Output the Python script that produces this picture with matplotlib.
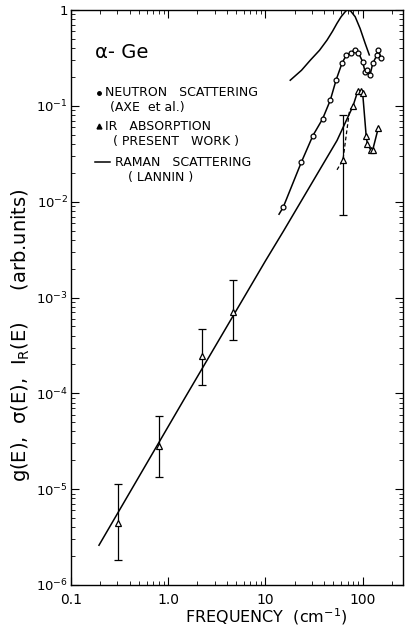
import matplotlib
matplotlib.use('Agg')
import matplotlib.pyplot as plt

# neutron scattering g(E), Axe et al.
neutron_freq = [15.2, 23.4, 30.8, 38.7, 46.4, 53.5, 61.2, 67.8, 75.7, 83.8, 90.6,
                100, 106, 112, 119, 127, 140, 145, 155]
neutron_g = [0.0087, 0.0258, 0.049, 0.073, 0.114, 0.188, 0.277, 0.338, 0.357, 0.387, 0.357,
             0.288, 0.226, 0.235, 0.209, 0.277, 0.338, 0.387, 0.312]
neutron_line_freq = [13.8] + neutron_freq
neutron_line_g = [0.0074] + neutron_g

# IR absorption sigma(E), present work
ir_freq = [0.305, 0.795, 2.21, 4.67, 62.7, 79.4, 89.2, 95.7, 100, 108.6, 112, 121, 127, 145]
ir_sigma = [4.4e-6, 2.79e-5, 2.44e-4, 7.05e-4, 0.0273, 0.099, 0.143, 0.143, 0.136,
            0.049, 0.0395, 0.0348, 0.0348, 0.059]
err_freq = [0.305, 0.795, 2.21, 4.67, 62.7]
err_val = [4.4e-6, 2.79e-5, 2.44e-4, 7.05e-4, 0.0273]
err_lo = [1.84e-6, 1.35e-5, 1.21e-4, 3.56e-4, 0.0073]
err_hi = [1.12e-5, 5.8e-5, 4.64e-4, 1.52e-3, 0.080]

# solid curve through the IR data
ir_line_freq = [0.194, 1.45, 10, 15.4, 54.5, 79.4, 89.2, 95.7, 100, 108.6, 112, 121, 127, 145]
ir_line_sigma = [2.6e-6, 8.6e-5, 2.41e-3, 4.97e-3, 0.0435, 0.099, 0.143, 0.143, 0.136,
                 0.049, 0.0395, 0.0348, 0.0348, 0.059]
# dashed segment
ir_dash_freq = [54.5, 62.7, 73.3, 79.4]
ir_dash_sigma = [0.0215, 0.0273, 0.0897, 0.099]

# Raman scattering I_R(E), Lannin
raman_freq = [18.0, 23.5, 29.0, 36, 43, 49, 54.4, 60, 66.2, 69, 75, 83.8, 94.2, 106, 117]
raman_I = [0.185, 0.235, 0.30, 0.38, 0.485, 0.60, 0.725, 0.85, 0.96, 1.0, 0.98, 0.85,
           0.64, 0.45, 0.34]

xticks = [0.1, 1, 10, 100]
xtick_labels = ['0.1', '1.0', '10', '100']
yticks = [1e-6, 1e-5, 1e-4, 1e-3, 1e-2, 1e-1, 1]
ytick_labels = ['$10^{-6}$', '$10^{-5}$', '$10^{-4}$', '$10^{-3}$', '$10^{-2}$', '$10^{-1}$', '1']

W, H = 406, 628
fig = plt.figure(figsize=(W / 100, H / 100), dpi=100)
ax = fig.add_axes([71 / W, 1 - 585 / H, (403 - 71) / W, (585 - 10) / H])

ax.plot(neutron_line_freq, neutron_line_g, color='black', lw=1.1)
ax.plot(neutron_freq, neutron_g, 'o', mfc='white', mec='black', ms=3.5, mew=0.9)

ax.plot(ir_line_freq, ir_line_sigma, color='black', lw=1.1)
ax.plot(ir_dash_freq, ir_dash_sigma, color='black', lw=0.9, ls=(0, (3, 2)))
ax.errorbar(err_freq, err_val,
            yerr=[[v - l for v, l in zip(err_val, err_lo)], [h - v for v, h in zip(err_val, err_hi)]],
            fmt='none', ecolor='black', elinewidth=0.9, capsize=3, capthick=0.9)
ax.plot(ir_freq, ir_sigma, '^', mfc='white', mec='black', ms=5, mew=0.9)

ax.plot(raman_freq, raman_I, color='black', lw=1.1)

ax.set_xscale('log')
ax.set_yscale('log')
ax.set_xlim(0.1, 260)
ax.set_ylim(1e-6, 1)
ax.set_xticks(xticks, xtick_labels)
ax.set_yticks(yticks, ytick_labels)
ax.tick_params(which='both', direction='in', top=True, right=True)
ax.tick_params(axis='x', labelsize=10, pad=6)
ax.tick_params(axis='y', labelsize=9.5, pad=2)
ax.tick_params(which='major', length=6)
ax.tick_params(which='minor', length=3)
for s in ax.spines.values():
    s.set_linewidth(1.0)

def ftext(x, y, s, **kw):
    fig.text(x / W, 1 - y / H, s, va='center', **kw)

ftext(95, 52, 'α- Ge', fontsize=14)
ftext(105, 93, 'NEUTRON   SCATTERING', fontsize=9)
ftext(110, 107, '(AXE  et al.)', fontsize=9)
ftext(105, 126, 'IR   ABSORPTION', fontsize=9)
ftext(113, 141, '( PRESENT   WORK )', fontsize=9)
ftext(115, 162, 'RAMAN   SCATTERING', fontsize=9)
ftext(128, 177, '( LANNIN )', fontsize=9)

# legend symbols
fig.lines.append(plt.Line2D([99 / W], [1 - 93 / H], marker='o', color='black', ms=2.5,
                            transform=fig.transFigure))
fig.lines.append(plt.Line2D([99 / W], [1 - 126 / H], marker='^', color='black', ms=3.5,
                            transform=fig.transFigure))
fig.lines.append(plt.Line2D([95 / W, 110 / W], [1 - 162 / H, 1 - 162 / H], color='black', lw=1.1,
                            transform=fig.transFigure))

ftext(266, 617, 'FREQUENCY  (cm$^{-1}$)', fontsize=11.5, ha='center')
ftext(21, 335, 'g(E),  σ(E),  I$_\\mathrm{R}$(E)     (arb.units)', fontsize=14, ha='center',
      rotation=90)

fig.savefig('out.png', dpi=100)
